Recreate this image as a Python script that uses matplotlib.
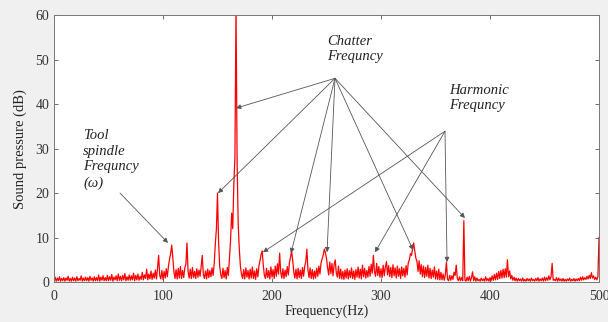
import numpy as np
import matplotlib
matplotlib.use("Agg")
import matplotlib.pyplot as plt

plt.rcParams['font.family'] = ['Liberation Serif', 'DejaVu Serif']

spl_db = [
    0.3, 1.1, 0.2, 0.9, 0.3, 1.2, 0.2, 0.8, 0.3, 1.0,
    0.2, 0.9, 0.4, 1.3, 0.2, 0.8, 0.2, 1.1, 0.3, 0.9,
    0.2, 1.2, 0.3, 0.8, 0.4, 1.4, 0.2, 0.9, 0.3, 1.1,
    0.3, 1.0, 0.2, 1.3, 0.4, 0.9, 0.2, 1.2, 0.3, 1.0,
    0.3, 1.6, 0.2, 1.1, 0.4, 1.4, 0.3, 1.0, 0.3, 1.5,
    0.3, 1.2, 0.4, 1.7, 0.2, 1.1, 0.5, 1.4, 0.3, 1.8,
    0.4, 1.3, 0.3, 1.5, 0.5, 1.9, 0.3, 1.2, 0.4, 1.6,
    0.4, 1.4, 0.5, 2.0, 0.3, 1.5, 0.5, 1.8, 0.4, 1.3,
    0.6, 2.2, 0.5, 1.6, 0.8, 2.9, 0.5, 1.8, 0.7, 2.5,
    0.6, 2.0, 0.9, 2.7, 0.7, 3.2, 6.0, 1.5, 0.7, 2.6,
    0.6, 2.4, 0.9, 3.0, 1.2, 3.6, 5.1, 6.4, 8.3, 5.5,
    2.4, 0.8, 2.8, 0.7, 3.1, 0.9, 3.5, 0.8, 2.6, 1.0,
    3.2, 4.0, 8.8, 2.5, 0.9, 2.9, 0.8, 3.3, 1.0, 2.4,
    0.8, 3.0, 1.1, 2.7, 1.3, 3.4, 6.0, 1.8, 0.8, 2.5,
    0.7, 2.9, 1.0, 2.6, 1.2, 3.2, 1.5, 4.2, 8.5, 12.0,
    20.0, 9.0, 3.6, 1.6, 0.8, 3.1, 1.0, 2.6, 0.7, 3.3,
    1.5, 5.5, 9.5, 15.5, 12.0, 22.0, 28.0, 62.0, 27.0, 13.0,
    7.5, 3.6, 1.8, 0.8, 2.8, 0.7, 3.2, 1.1, 2.6, 0.7,
    2.9, 0.9, 3.4, 0.8, 2.5, 0.6, 3.0, 1.2, 3.6, 4.8,
    6.2, 7.0, 3.8, 1.5, 0.8, 3.1, 1.0, 2.6, 0.7, 3.4,
    1.1, 2.8, 0.8, 3.6, 1.3, 4.1, 1.8, 6.5, 2.2, 0.9,
    3.0, 0.8, 2.7, 1.2, 3.5, 1.6, 4.4, 5.6, 7.0, 4.9,
    2.2, 0.9, 2.9, 0.7, 3.1, 1.0, 2.7, 0.8, 3.3, 1.3,
    3.5, 4.6, 7.4, 2.7, 1.0, 3.2, 0.8, 2.8, 0.7, 2.5,
    0.9, 3.1, 1.3, 3.6, 1.8, 4.3, 5.2, 6.1, 7.4, 6.6,
    5.3, 3.2, 1.6, 4.5, 1.9, 4.2, 1.4, 3.9, 5.0, 2.0,
    1.1, 3.6, 0.8, 2.9, 0.7, 2.4, 0.6, 2.7, 0.9, 3.0,
    0.7, 2.6, 1.0, 3.2, 0.8, 2.5, 0.6, 2.8, 1.1, 3.4,
    0.9, 2.9, 0.7, 3.8, 1.2, 3.1, 0.9, 2.6, 1.1, 3.5,
    1.3, 4.0, 2.0, 6.0, 2.4, 1.3, 4.2, 1.5, 3.5, 1.1,
    3.0, 1.0, 3.8, 1.4, 3.4, 4.6, 1.6, 3.7, 1.2, 3.3,
    1.0, 3.9, 1.4, 3.2, 0.9, 3.6, 1.3, 3.0, 0.8, 3.4,
    1.4, 3.1, 1.1, 3.7, 1.6, 4.3, 5.0, 6.4, 6.0, 7.5,
    8.8, 6.9, 5.4, 4.6, 2.4, 4.8, 1.8, 3.9, 1.2, 3.6,
    1.0, 3.3, 1.3, 3.8, 0.9, 3.1, 0.8, 2.7, 1.1, 3.4,
    0.7, 2.5, 0.6, 2.9, 0.5, 2.2, 0.5, 1.8, 0.4, 1.6,
    4.5, 0.6, 0.3, 1.5, 0.4, 1.4, 0.6, 2.2, 1.5, 3.8,
    0.8, 0.3, 1.2, 0.3, 1.0, 0.3, 13.8, 0.4, 0.2, 1.1,
    0.3, 1.3, 0.2, 1.0, 2.3, 0.3, 1.2, 0.2, 0.9, 0.3,
    0.6, 0.2, 0.9, 0.3, 0.7, 0.2, 1.2, 0.3, 0.8, 0.2,
    1.0, 0.3, 1.4, 0.4, 1.7, 0.5, 2.0, 0.6, 2.4, 0.8,
    2.6, 0.9, 2.9, 1.0, 3.0, 1.1, 5.0, 1.2, 2.5, 0.7,
    1.5, 0.4, 1.1, 0.3, 0.9, 0.2, 0.8, 0.3, 0.7, 0.2,
    0.9, 0.2, 0.6, 0.2, 0.8, 0.3, 0.7, 0.2, 0.9, 0.3,
    0.6, 0.2, 0.8, 0.3, 1.0, 0.2, 0.7, 0.3, 0.9, 0.2,
    1.1, 0.3, 1.0, 0.4, 1.4, 0.5, 1.2, 4.2, 0.4, 0.6,
    0.3, 1.0, 0.2, 0.9, 0.3, 0.7, 0.2, 0.8, 0.2, 0.6,
    0.2, 0.7, 0.3, 0.9, 0.2, 0.6, 0.3, 0.8, 0.2, 0.7,
    0.3, 0.8, 0.3, 1.1, 0.4, 1.2, 0.5, 1.0, 0.6, 1.3,
    0.7, 1.5, 0.8, 2.1, 0.9, 1.4, 0.6, 1.1, 0.5, 1.2,
    10.0,
]
freq_start_hz = 0
freq_step_hz = 1
freq_hz = freq_start_hz + freq_step_hz * np.arange(len(spl_db))

x_ticks = [0, 100, 200, 300, 400, 500]
y_ticks = [0, 10, 20, 30, 40, 50, 60]

# Annotation groups: (label, text anchor, arrow origin, arrow targets)
tool_label = "Tool\nspindle\nFrequncy\n(ω)"
tool_text_xy = (26.6, 34.3)
tool_origin = (60.6, 20.0)
tool_targets = [(104.6, 8.8)]

chatter_label = "Chatter\nFrequncy"
chatter_text_xy = (250.5, 55.6)
chatter_origin = (257.8, 45.8)
chatter_targets = [(167.0, 39.1), (150.5, 20.0), (217.4, 6.5),
                   (250.5, 6.7), (329.4, 7.2), (377.0, 14.4)]

harmonic_label = "Harmonic\nFrequncy"
harmonic_text_xy = (362.4, 44.6)
harmonic_origin = (358.7, 33.9)
harmonic_targets = [(191.7, 6.7), (294.5, 6.7), (360.6, 4.5)]

fig = plt.figure(figsize=(6.08, 3.22), dpi=100, facecolor='#f0f0f0')
ax = fig.add_axes([0.0888, 0.124, 0.8964, 0.829])
ax.set_facecolor('white')

ax.plot(freq_hz, spl_db, color='#ff0000', lw=0.9, clip_on=True)

ax.set_xlim(0, 500)
ax.set_ylim(0, 60)
ax.set_xticks(x_ticks)
ax.set_yticks(y_ticks)
ax.tick_params(direction='in', length=3, width=0.6, colors='#555555',
               labelcolor='#333333', labelsize=10, top=True, right=True)
ax.tick_params(axis='x', pad=6)
for s in ax.spines.values():
    s.set_color('#777777')
    s.set_linewidth(0.7)

ax.set_xlabel("Frequency(Hz)", fontsize=10, color='#222222', labelpad=1)
ax.set_ylabel("Sound pressure (dB)", fontsize=10.5, color='#222222', labelpad=6)

arrow_kw = dict(arrowstyle='-|>', color='#555555', lw=0.6, mutation_scale=7,
                shrinkA=0, shrinkB=0)
text_kw = dict(fontsize=10.5, style='italic', color='#222222', va='top',
               ha='left', linespacing=1.25)

for label, txy, origin, targets in [
        (tool_label, tool_text_xy, tool_origin, tool_targets),
        (chatter_label, chatter_text_xy, chatter_origin, chatter_targets),
        (harmonic_label, harmonic_text_xy, harmonic_origin, harmonic_targets)]:
    ax.text(txy[0], txy[1], label, **text_kw)
    for t in targets:
        ax.annotate('', xy=t, xytext=origin, arrowprops=arrow_kw)

fig.savefig("out.png", dpi=100, facecolor=fig.get_facecolor())
